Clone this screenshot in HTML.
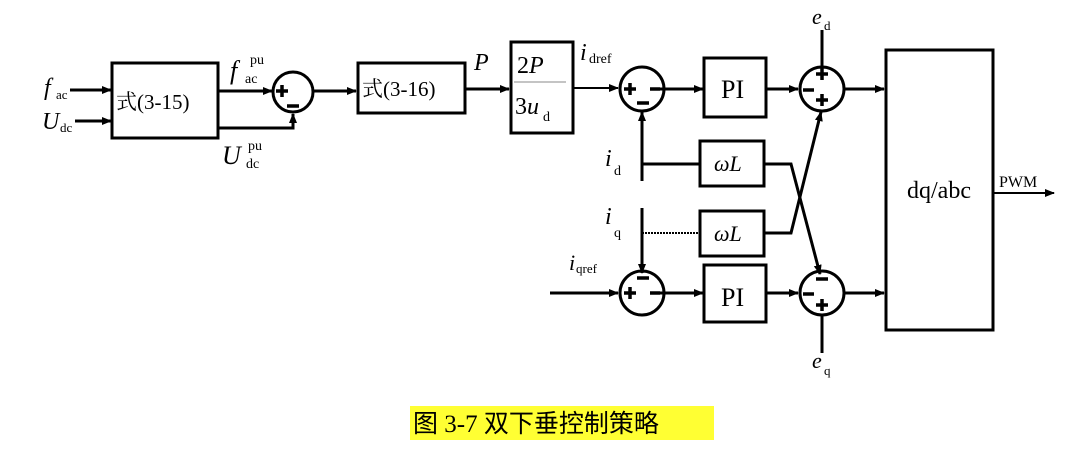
<!DOCTYPE html>
<html><head><meta charset="utf-8"><style>
html,body{margin:0;padding:0;background:#fff;width:1079px;height:452px;overflow:hidden}
svg{display:block}
text{font-family:"Liberation Serif","Noto Serif CJK SC",serif;fill:#000}
.cap{font-family:"Liberation Serif","Noto Sans CJK SC",sans-serif}
</style></head><body>
<svg width="1079" height="452" viewBox="0 0 1079 452" xmlns="http://www.w3.org/2000/svg">
<defs><marker id="a" markerWidth="10" markerHeight="8" refX="9" refY="4" orient="auto" markerUnits="userSpaceOnUse"><path d="M0,0 L10,4 L0,8 Z" fill="#000"/></marker></defs>
<g stroke="#000" stroke-width="3" fill="none">
<line x1="70" y1="90" x2="111" y2="90" marker-end="url(#a)"/>
<line x1="75" y1="121" x2="111" y2="121" marker-end="url(#a)"/>
<rect x="112" y="63" width="106" height="75"/>
<line x1="218" y1="91" x2="272" y2="91" marker-end="url(#a)"/>
<polyline points="218,128 293,128 293,114" marker-end="url(#a)"/>
<circle cx="293" cy="92" r="20"/>
<line x1="313" y1="91" x2="356" y2="91" marker-end="url(#a)"/>
<rect x="358" y="63" width="107" height="50"/>
<line x1="465" y1="89" x2="509" y2="89" marker-end="url(#a)"/>
<rect x="511" y="42" width="62" height="91"/>
<line x1="573" y1="88" x2="618" y2="88" stroke-width="2" marker-end="url(#a)"/>
<circle cx="642" cy="89" r="22"/>
<line x1="652" y1="89" x2="703" y2="89" marker-end="url(#a)"/>
<rect x="704" y="58" width="62" height="59"/>
<line x1="766" y1="89" x2="798" y2="89" marker-end="url(#a)"/>
<circle cx="822" cy="89" r="22"/>
<line x1="822" y1="30" x2="822" y2="67"/>
<line x1="844" y1="89" x2="884" y2="89" marker-end="url(#a)"/>
<rect x="886" y="50" width="107" height="280"/>
<line x1="993" y1="193" x2="1054" y2="193" stroke-width="2" marker-end="url(#a)"/>
<line x1="642" y1="181" x2="642" y2="112" marker-end="url(#a)"/>
<line x1="642" y1="164" x2="700" y2="164"/>
<rect x="700" y="141" width="64" height="45"/>
<polyline points="764,164 791,164 820,274" marker-end="url(#a)"/>
<line x1="642" y1="208" x2="642" y2="273" marker-end="url(#a)"/>
<line x1="642" y1="233" x2="700" y2="233" stroke-dasharray="2,1" stroke-width="2"/>
<rect x="700" y="211" width="64" height="45"/>
<polyline points="764,233 791,233 821,112" marker-end="url(#a)"/>
<line x1="550" y1="293" x2="618" y2="293" marker-end="url(#a)"/>
<circle cx="642" cy="293" r="22"/>
<line x1="652" y1="293" x2="703" y2="293" marker-end="url(#a)"/>
<rect x="704" y="265" width="62" height="57"/>
<line x1="766" y1="293" x2="798" y2="293" marker-end="url(#a)"/>
<circle cx="822" cy="293" r="22"/>
<line x1="822" y1="315" x2="822" y2="353"/>
<line x1="844" y1="293" x2="884" y2="293" marker-end="url(#a)"/>
</g>
<line x1="514" y1="82" x2="566" y2="82" stroke="#888" stroke-width="1"/>
<!-- signs -->
<g stroke="#000" stroke-width="3.5" fill="none">
<path d="M276,91h12M282,85v12"/><path d="M287,106h12"/>
<path d="M624,89h12M630,83v12"/><path d="M650,89h10"/><path d="M637,103h12"/>
<path d="M803,90h11"/><path d="M816,74h12M822,68v12"/><path d="M816,100h12M822,94v12"/>
<path d="M624,293h12M630,287v12"/><path d="M650,293h10"/><path d="M637,278h12"/>
<path d="M803,294h11"/><path d="M816,279h12"/><path d="M816,305h12M822,299v12"/>
</g>
<g font-size="20">
<text x="44" y="95" font-style="italic" font-size="24">f</text><text x="56" y="99" font-size="13">ac</text>
<text x="42" y="129" font-style="italic" font-size="24">U</text><text x="60" y="132" font-size="13">dc</text>
<text x="116" y="109" font-size="21">式(3-15)</text>
<text x="230" y="79" font-style="italic" font-size="26">f</text><text x="245" y="83" font-size="14">ac</text><text x="250" y="64" font-size="14">pu</text>
<text x="222" y="164" font-style="italic" font-size="26">U</text><text x="246" y="168" font-size="14">dc</text><text x="248" y="150" font-size="14">pu</text>
<text x="362" y="96" font-size="21">式(3-16)</text>
<text x="474" y="70" font-style="italic" font-size="24">P</text>
<text x="517" y="73" font-size="24">2<tspan font-style="italic">P</tspan></text>
<text x="515" y="114" font-size="24">3<tspan font-style="italic">u</tspan></text><text x="543" y="121" font-size="14">d</text>
<text x="580" y="60" font-style="italic" font-size="24">i</text><text x="589" y="63" font-size="14">dref</text>
<text x="721" y="98" font-size="26">PI</text>
<text x="721" y="306" font-size="26">PI</text>
<text x="714" y="171" font-style="italic" font-size="22">ωL</text>
<text x="714" y="241" font-style="italic" font-size="22">ωL</text>
<text x="605" y="166" font-style="italic" font-size="24">i</text><text x="614" y="175" font-size="14">d</text>
<text x="605" y="224" font-style="italic" font-size="24">i</text><text x="614" y="237" font-size="14">q</text>
<text x="569" y="270" font-style="italic" font-size="22">i</text><text x="576" y="273" font-size="13">qref</text>
<text x="812" y="24" font-style="italic" font-size="22">e</text><text x="824" y="30" font-size="13">d</text>
<text x="812" y="368" font-style="italic" font-size="22">e</text><text x="824" y="375" font-size="13">q</text>
<text x="939" y="198" text-anchor="middle" font-size="24">dq/abc</text>
<text x="999" y="187" font-size="16">PWM</text>
</g>
<rect x="410" y="406" width="304" height="34" fill="#ffff33"/>
<text class="cap" x="413" y="432" font-size="25">图 3-7  双下垂控制策略</text>
</svg>
</body></html>
